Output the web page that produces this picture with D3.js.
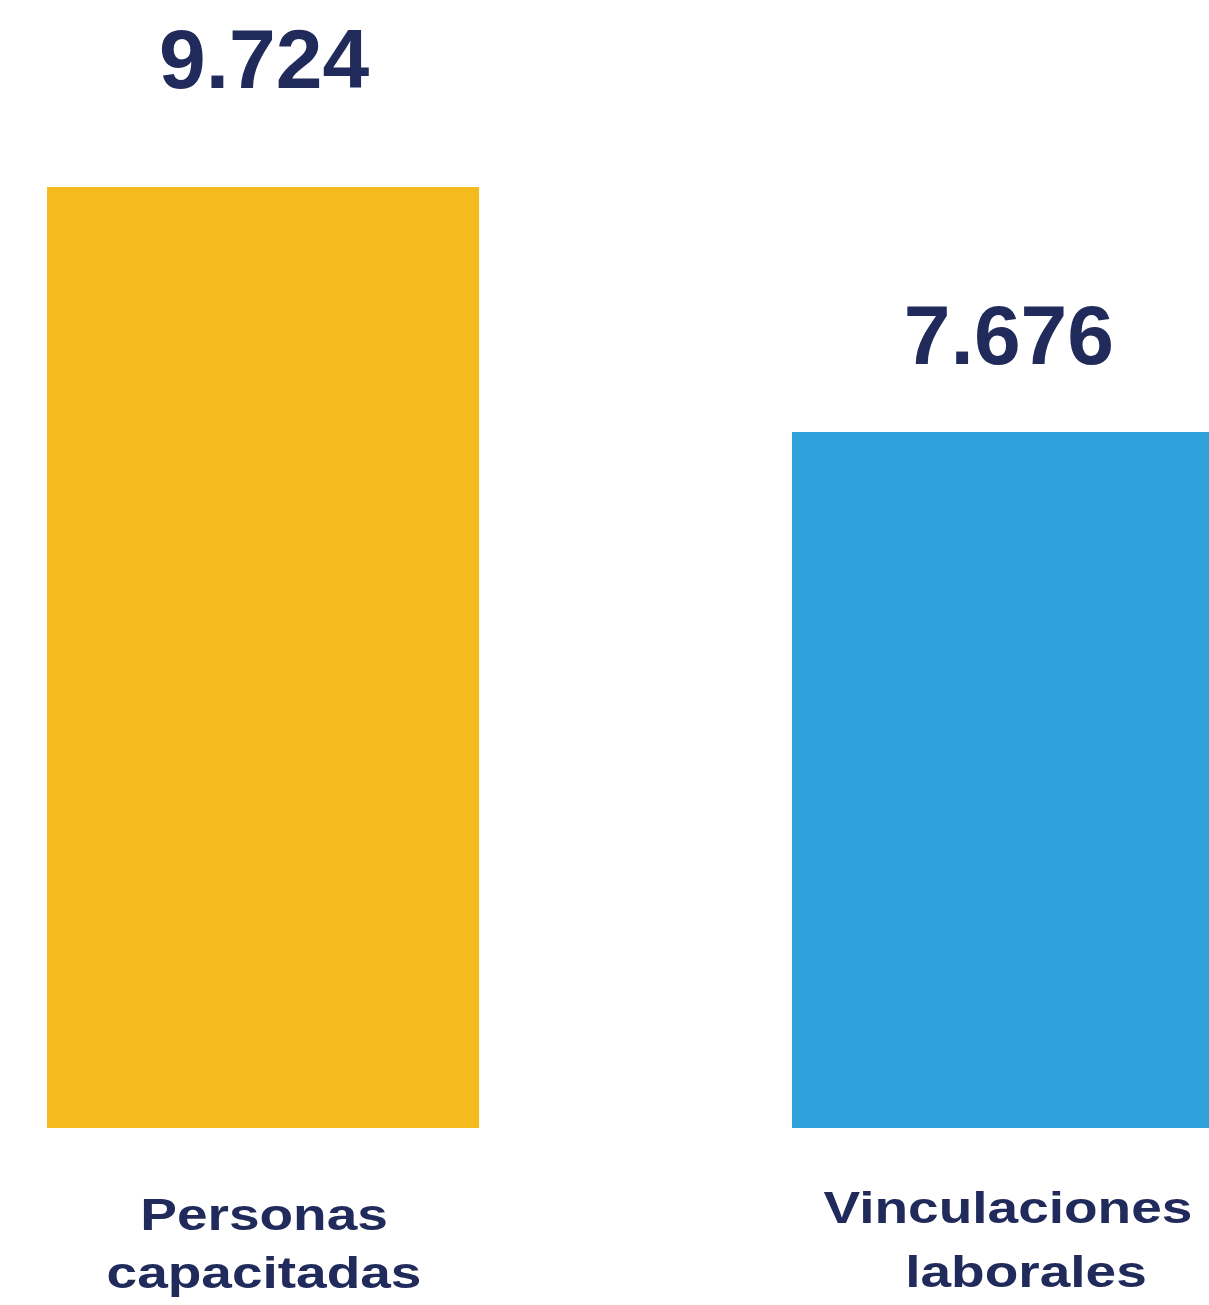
<!DOCTYPE html>
<html>
<head>
<meta charset="utf-8">
<script src="https://cdn.jsdelivr.net/npm/d3@7"></script>
<style>
  html, body { margin: 0; padding: 0; background: #ffffff; overflow: hidden; }
  svg { display: block; }
</style>
</head>
<body>
<svg id="chart" width="1209" height="1305"></svg>
<script>
// ---- data ----
const categories = ["Personas capacitadas", "Vinculaciones laborales"];
const categoryLines = [["Personas", "capacitadas"], ["Vinculaciones", "laborales"]];
const values = [9724, 7676];
const valueLabels = ["9.724", "7.676"];
const colors = ["#F5BA1E", "#30A1DA"];

// ---- layout ----
const svg = d3.select("#chart");

const x = d3.scaleBand()
  .domain(categories)
  .range([47, 1224])
  .paddingInner(0.42)
  .paddingOuter(0);

const y = d3.scaleLinear()
  .domain([1858, 9724])
  .range([1128, 187]);

const textColor = "#212B5B";
const font = "'Liberation Sans', Arial, Helvetica, sans-serif";

// bars
svg.selectAll("rect.bar")
  .data(categories)
  .join("rect")
  .attr("class", "bar")
  .attr("x", d => x(d))
  .attr("width", x.bandwidth())
  .attr("y", (d, i) => y(values[i]))
  .attr("height", (d, i) => y.range()[0] - y(values[i]))
  .attr("fill", (d, i) => colors[i]);

// value labels
const labelGap = [99, 68];
svg.selectAll("text.value")
  .data(categories)
  .join("text")
  .attr("class", "value")
  .attr("x", d => x(d) + x.bandwidth() / 2 + 1)
  .attr("y", (d, i) => y(values[i]) - labelGap[i])
  .attr("text-anchor", "middle")
  .attr("font-family", font)
  .attr("font-weight", "bold")
  .attr("font-size", 84)
  .attr("fill", textColor)
  .text((d, i) => valueLabels[i]);

// category labels (horizontally stretched like the reference)
const lineBaselines = [[1229.5, 1287.5], [1223, 1287]];
const lineDx = [[1, 1], [0, 18]];
categories.forEach((c, i) => {
  const cx = x(c) + x.bandwidth() / 2;
  categoryLines[i].forEach((ln, j) => {
    svg.append("text")
      .attr("transform", `translate(${cx + lineDx[i][j]},${lineBaselines[i][j]}) scale(1.25,1)`)
      .attr("text-anchor", "middle")
      .attr("font-family", font)
      .attr("font-weight", "bold")
      .attr("font-size", 44)
      .attr("fill", textColor)
      .text(ln);
  });
});
</script>
</body>
</html>
